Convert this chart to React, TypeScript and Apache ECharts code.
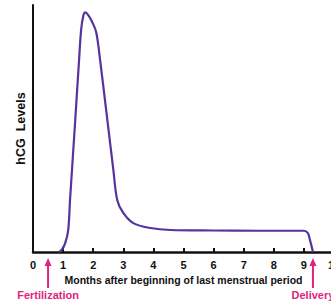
import React, { useEffect, useRef } from "react";
import * as echarts from "echarts";

const months = [0.87, 0.97, 1.07, 1.17, 1.23, 1.38, 1.53, 1.6, 1.67, 1.73, 1.83, 1.97, 2.1, 2.23, 2.43, 2.67, 2.8, 3.0, 3.33, 3.9, 4.57, 6.0, 7.5, 9.0, 9.13, 9.2, 9.27, 9.3];
const hcg = [0, 1.2, 3.6, 8.9, 21, 49, 77.7, 90, 95.5, 97, 96, 93, 89, 77.7, 57.5, 33.2, 21, 15.8, 11.7, 9.7, 8.9, 8.7, 8.6, 8.6, 7.7, 4.9, 1.6, 0];
const tickLabels = ["0", "1", "2", "3", "4", "5", "6", "7", "8", "9", "10"];
const events = [
  { label: "Fertilization", month: 0.5 },
  { label: "Delivery", month: 9.3 },
];

const FONT = "'Liberation Sans', Arial, sans-serif";
const PINK = "#e2237d";

export default function App() {
  const ref = useRef<HTMLDivElement>(null);
  useEffect(() => {
    document.body.style.margin = "0";
    const chart = echarts.init(ref.current!, null, { renderer: "svg" });
    chart.setOption({
      animation: false,
      backgroundColor: "#ffffff",
      grid: { left: 33, top: 5, width: 301, height: 247, outerBoundsMode: "none", containLabel: false },
      xAxis: {
        type: "value",
        min: 0,
        max: 10,
        interval: 1,
        name: "Months after beginning of last menstrual period",
        nameLocation: "middle",
        nameGap: 21,
        nameTextStyle: { fontFamily: FONT, fontWeight: "bold", fontSize: 10.5, color: "#111" },
        axisLine: { lineStyle: { color: "#111", width: 2.5 } },
        axisTick: { inside: true, length: 4, lineStyle: { color: "#111", width: 2 } },
        axisLabel: {
          margin: 7,
          fontFamily: FONT,
          fontWeight: "bold",
          fontSize: 11,
          color: "#111",
          formatter: (v: number) => tickLabels[Math.round(v)] ?? "",
        },
        splitLine: { show: false },
      },
      yAxis: {
        type: "value",
        min: 0,
        max: 100,
        name: "hCG  Levels",
        nameLocation: "middle",
        nameGap: 6,
        nameTextStyle: { fontFamily: FONT, fontWeight: "bold", fontSize: 12.5, color: "#111" },
        axisLine: { show: true, lineStyle: { color: "#111", width: 2 } },
        axisTick: { show: false },
        axisLabel: { show: false },
        splitLine: { show: false },
      },
      series: [
        {
          type: "line",
          data: months.map((m, i) => [m, hcg[i]]),
          smooth: 0.35,
          showSymbol: false,
          lineStyle: { color: "#55349b", width: 2.2 },
        },
      ],
    });
    const g: any[] = [];
    const baseY = (chart.convertToPixel({ gridIndex: 0 }, [0, 0]) as number[])[1];
    events.forEach((e) => {
      const x = (chart.convertToPixel({ gridIndex: 0 }, [e.month, 0]) as number[])[0];
      const tip = baseY + 6;
      g.push({ type: "line", shape: { x1: x, y1: tip + 5, x2: x, y2: tip + 30 }, style: { stroke: PINK, lineWidth: 2 } });
      g.push({ type: "polygon", shape: { points: [[x, tip], [x - 3.5, tip + 8], [x + 3.5, tip + 8]] }, style: { fill: PINK } });
      g.push({
        type: "text",
        x,
        y: baseY + 43,
        style: { text: e.label, fill: PINK, font: `bold 11px ${FONT}`, align: "center", verticalAlign: "middle" },
      });
    });
    chart.setOption({ graphic: g });
    return () => chart.dispose();
  }, []);
  return <div ref={ref} style={{ width: 331, height: 303 }} />;
}
